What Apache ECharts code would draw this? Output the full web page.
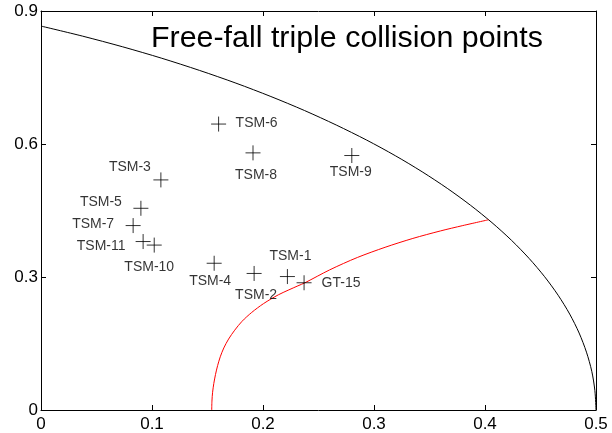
<!DOCTYPE html>
<html>
<head>
<meta charset="utf-8">
<script src="https://cdn.jsdelivr.net/npm/echarts@6/dist/echarts.min.js"></script>
<style>
html,body{margin:0;padding:0;background:#ffffff;}
#chart{width:612px;height:433px;}
</style>
</head>
<body>
<div id="chart"></div>
<script>
// ---- data ----
const titleText = 'Free-fall triple collision points';
const xTicks = [0, 0.1, 0.2, 0.3, 0.4, 0.5];
const yTicks = [0, 0.3, 0.6, 0.9];

const pointNames = ['TSM-1','TSM-2','TSM-3','TSM-4','TSM-5','TSM-6','TSM-7','TSM-8','TSM-9','TSM-10','TSM-11','GT-15'];
const pointX     = [0.222, 0.192, 0.108, 0.156, 0.090, 0.160, 0.083, 0.191, 0.280, 0.102, 0.092, 0.237];
const pointY     = [0.301, 0.308, 0.519, 0.331, 0.455, 0.645, 0.416, 0.580, 0.574, 0.372, 0.380, 0.287];

// black boundary curve
const boundaryX = [0, 0.0373, 0.0736, 0.1088, 0.1428, 0.1756, 0.2071, 0.2373, 0.2660, 0.2934, 0.3192, 0.3434, 0.3660, 0.3870, 0.4063, 0.4239, 0.4397, 0.4537, 0.4659, 0.4763, 0.4848, 0.4914, 0.4962, 0.4990, 0.5];
const boundaryY = [0.866, 0.8434, 0.8192, 0.7934, 0.7660, 0.7373, 0.7071, 0.6756, 0.6428, 0.6088, 0.5736, 0.5373, 0.5000, 0.4617, 0.4226, 0.3827, 0.3420, 0.3007, 0.2588, 0.2164, 0.1736, 0.1305, 0.0872, 0.0436, 0];

// red curve
const redX = [0.1538, 0.1540, 0.1546, 0.1557, 0.1572, 0.1591, 0.1615, 0.1647, 0.1690, 0.1745, 0.1811, 0.1898, 0.2005, 0.2140, 0.2314, 0.2378, 0.2600, 0.2850, 0.3100, 0.3350, 0.3600, 0.3800, 0.4030];
const redY = [0, 0.020, 0.040, 0.060, 0.080, 0.100, 0.120, 0.140, 0.160, 0.180, 0.200, 0.220, 0.240, 0.260, 0.280, 0.287, 0.316, 0.344, 0.367, 0.387, 0.404, 0.416, 0.429];

// ---- label placement (style, not data): centre offsets in px ----
const labelOffsets = {
  'TSM-1': [3, -20], 'TSM-2': [2, 22], 'TSM-3': [-31, -13], 'TSM-4': [-4, 18],
  'TSM-5': [-40, -6], 'TSM-6': [38, -1], 'TSM-7': [-40, -1], 'TSM-8': [3, 22],
  'TSM-9': [-1, 17], 'TSM-10': [-5, 22], 'TSM-11': [-42, 5], 'GT-15': [37, 0]
};

const FONT = '"Liberation Sans", Arial, Helvetica, sans-serif';

const pts = pointNames.map((n, i) => ({
  name: n,
  value: [pointX[i], pointY[i]],
  label: { show: true, position: 'inside', offset: labelOffsets[n], formatter: n }
}));

const zip = (xs, ys) => xs.map((x, i) => [x, ys[i]]);

const chart = echarts.init(document.getElementById('chart'), null, { renderer: 'canvas' });

const axisCommon = {
  type: 'value',
  axisLine: { show: true, onZero: false, lineStyle: { color: '#000', width: 1 } },
  axisTick: { show: true, inside: true, length: 5, lineStyle: { color: '#000', width: 1 } },
  splitLine: { show: false }
};

chart.setOption({
  animation: false,
  backgroundColor: '#ffffff',
  title: {
    text: titleText,
    left: 151, top: 24, padding: 0,
    textStyle: { fontFamily: FONT, fontSize: 30.4, fontWeight: 'normal', color: '#000' }
  },
  grid: { left: 41, right: 16, top: 11, bottom: 23, containLabel: false },
  xAxis: [
    Object.assign({}, axisCommon, {
      position: 'bottom', min: xTicks[0], max: xTicks[xTicks.length - 1], interval: 0.1,
      axisLabel: { show: true, margin: 6, color: '#000', fontFamily: FONT, fontSize: 17,
        formatter: v => String(+v.toFixed(1)) }
    }),
    Object.assign({}, axisCommon, {
      position: 'top', min: xTicks[0], max: xTicks[xTicks.length - 1], interval: 0.1,
      axisLabel: { show: false }
    })
  ],
  yAxis: [
    Object.assign({}, axisCommon, {
      position: 'left', min: yTicks[0], max: yTicks[yTicks.length - 1], interval: 0.3,
      axisLabel: { show: true, margin: 3, color: '#000', fontFamily: FONT, fontSize: 17,
        formatter: v => String(+v.toFixed(1)) }
    }),
    Object.assign({}, axisCommon, {
      position: 'right', min: yTicks[0], max: yTicks[yTicks.length - 1], interval: 0.3,
      axisLabel: { show: false }
    })
  ],
  series: [
    {
      type: 'line', data: zip(boundaryX, boundaryY), smooth: 0.3, showSymbol: false, symbol: 'none',
      lineStyle: { color: '#000', width: 1 }, silent: true, z: 2
    },
    {
      type: 'line', data: zip(redX, redY), smooth: 0.3, showSymbol: false, symbol: 'none',
      lineStyle: { color: '#ff0000', width: 1 }, silent: true, z: 2
    },
    {
      type: 'scatter', data: pts,
      symbol: 'path://M10,0L10,20M0,10L20,10', symbolSize: 15,
      itemStyle: { color: 'none', borderColor: '#000', borderWidth: 1 },
      label: { color: '#000', fontFamily: FONT, fontSize: 14 },
      silent: true, z: 3
    }
  ]
});
</script>
</body>
</html>
